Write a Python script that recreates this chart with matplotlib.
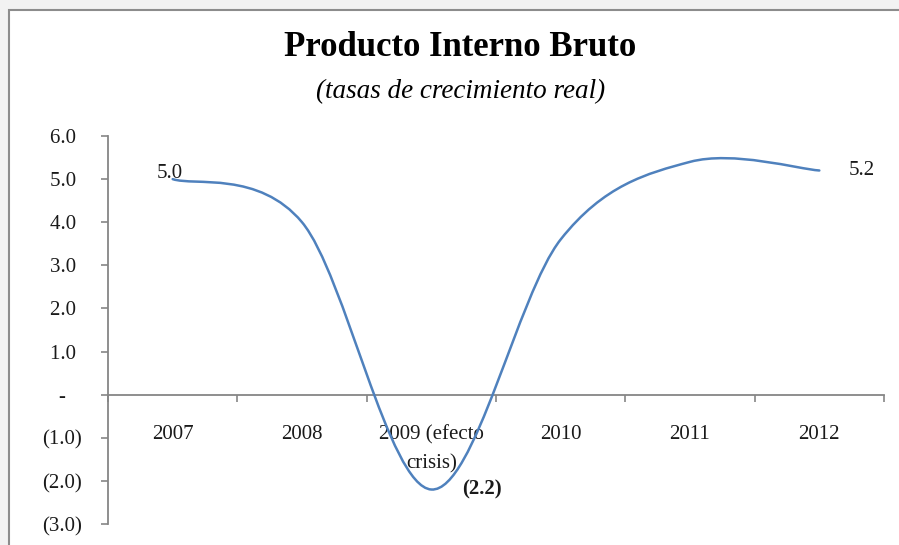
import matplotlib
matplotlib.use("Agg")
import matplotlib.pyplot as plt
from matplotlib.path import Path
from matplotlib.patches import PathPatch, Rectangle
import numpy as np

categories = ["2007", "2008", "2009 (efecto\ncrisis)", "2010", "2011", "2012"]
values = [5.0, 4.0, -2.2, 3.6, 5.4, 5.2]
y_ticks = [6.0, 5.0, 4.0, 3.0, 2.0, 1.0, 0.0, -1.0, -2.0, -3.0]
y_tick_labels = ["6.0 ", "5.0 ", "4.0 ", "3.0 ", "2.0 ", "1.0 ", "-   ", "(1.0)", "(2.0)", "(3.0)"]
title = "Producto Interno Bruto"
subtitle = "(tasas de crecimiento real)"

FONT = "Liberation Serif"
LINE = "#4f81bd"
AXC = "#868686"
TXT = "#1a1a1a"
FS = 15

fig = plt.figure(figsize=(8.99, 5.45), dpi=100)
fig.patch.set_facecolor("#f2f2f2")
fig.patches.append(Rectangle((9 / 899, -0.05), 1.0, 1 - 10 / 545 + 0.05,
                             transform=fig.transFigure, facecolor="white",
                             edgecolor="#8c8c8c", linewidth=1.5, zorder=-10))

ax = fig.add_axes([108 / 899, (545 - 524) / 545, 776 / 899, 388 / 545])
ax.set_zorder(1)
ax.set_facecolor("none")
n = len(categories)
x = np.arange(n)
ax.set_xlim(-0.5, n - 0.5)
ax.set_ylim(-3.0, 6.0)

# Smoothed line (Catmull-Rom as cubic Bezier, like Excel smoothing)
pts = list(zip(x.astype(float), values))
verts = [pts[0]]
codes = [Path.MOVETO]
for i in range(n - 1):
    p0 = np.array(pts[i - 1] if i > 0 else pts[i])
    p1 = np.array(pts[i])
    p2 = np.array(pts[i + 1])
    p3 = np.array(pts[i + 2] if i + 2 < n else pts[i + 1])
    c1 = p1 + (p2 - p0) / 6.0
    c2 = p2 - (p3 - p1) / 6.0
    verts += [tuple(c1), tuple(c2), tuple(p2)]
    codes += [Path.CURVE4] * 3
ax.add_patch(PathPatch(Path(verts, codes), facecolor="none", edgecolor=LINE,
                       linewidth=1.8, zorder=3, capstyle="round"))

# spines
for s in ["top", "right"]:
    ax.spines[s].set_visible(False)
ax.spines["bottom"].set_position(("data", 0))
ax.spines["left"].set_color(AXC)
ax.spines["bottom"].set_color(AXC)
ax.spines["left"].set_linewidth(1.3)
ax.spines["bottom"].set_linewidth(1.3)

ax.set_yticks(y_ticks)
ax.set_yticklabels(y_tick_labels, fontfamily=FONT, fontsize=FS, color=TXT)
ax.tick_params(axis="y", direction="out", length=5, width=1.2, color=AXC, pad=14)

ax.set_xticks(np.arange(-0.5, n, 1.0))
ax.set_xticklabels([])
ax.tick_params(axis="x", which="major", direction="out", length=5, width=1.2, color=AXC)
ax.set_xticks(x, minor=True)
ax.set_xticklabels(categories, minor=True, fontfamily=FONT, fontsize=FS,
                   color=TXT, linespacing=1.65)
ax.tick_params(axis="x", which="minor", length=0, pad=22)

# data labels
ax.annotate(f"{values[0]:.1f}", (x[0], values[0]), xytext=(-3, 1), textcoords="offset pixels",
            ha="center", va="baseline", fontfamily=FONT, fontsize=FS, color=TXT)
ax.annotate(f"{values[-1]:.1f}", (x[-1], values[-1]), xytext=(29, 0), textcoords="offset pixels",
            ha="left", va="center", fontfamily=FONT, fontsize=FS, color=TXT)
ax.annotate(f"({abs(values[2]):.1f})", (x[2], values[2]), xytext=(31, 0), textcoords="offset pixels",
            ha="left", va="center", fontfamily=FONT, fontsize=FS, fontweight="bold",
            color=TXT)

fig.text(460 / 899, 1 - 48 / 545, title, ha="center", va="center", fontfamily=FONT,
         fontsize=25, fontweight="bold", color="black")
fig.text(461 / 899, 1 - 92 / 545, subtitle, ha="center", va="center", fontfamily=FONT,
         fontsize=19.5, fontstyle="italic", color="black")

fig.savefig("out.png", dpi=100, facecolor=fig.get_facecolor())
